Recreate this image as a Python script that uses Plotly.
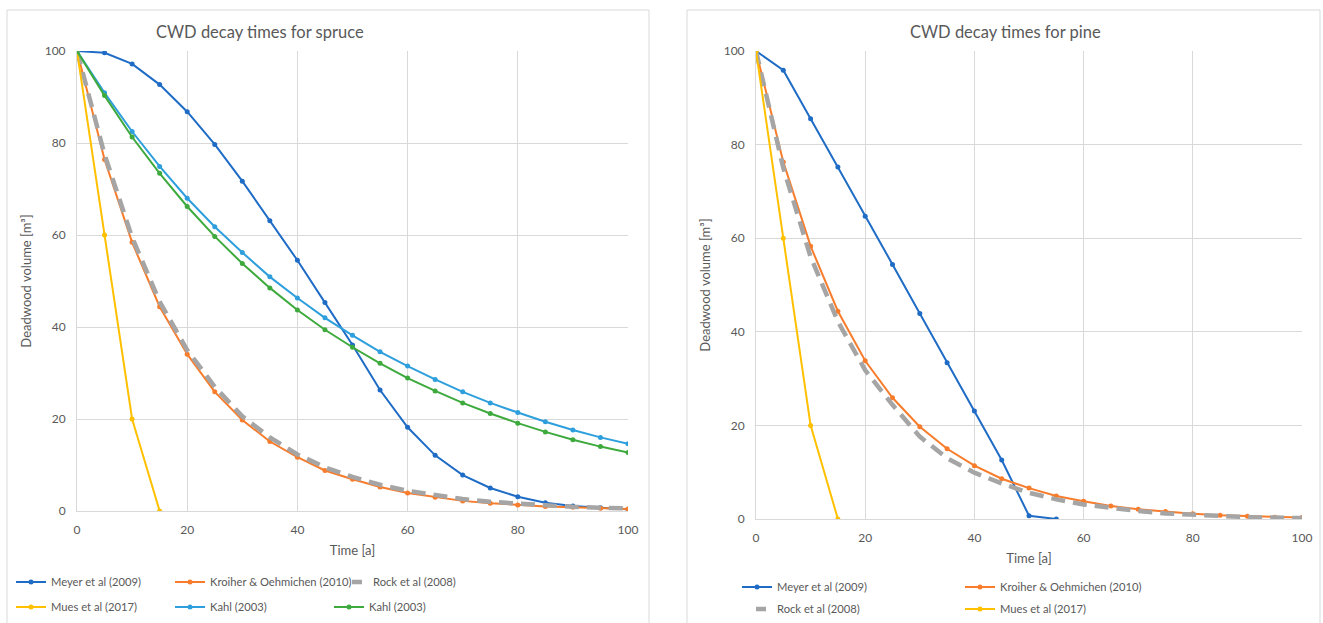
import plotly.graph_objects as go

# ---------------- data ----------------
t = [0, 5, 10, 15, 20, 25, 30, 35, 40, 45, 50, 55, 60, 65, 70, 75, 80, 85, 90, 95, 100]
t_mues = [0, 5, 10, 15]
t_meyer_pine = [0, 5, 10, 15, 20, 25, 30, 35, 40, 45, 50, 55]

# spruce
spruce_meyer = [100, 99.6, 97.2, 92.7, 86.8, 79.7, 71.7, 63.1, 54.5, 45.3, 36.1, 26.3, 18.2, 12.1, 7.8, 5.0, 3.1, 1.8, 1.1, 0.7, 0.4]
spruce_kroiher = [100, 76.4, 58.4, 44.4, 34.1, 25.9, 19.8, 15.1, 11.7, 8.8, 6.9, 5.2, 3.9, 3.0, 2.2, 1.7, 1.3, 1.0, 0.8, 0.6, 0.45]
spruce_rock = [100, 77.5, 59.5, 45.5, 35.0, 27.0, 20.6, 16.0, 12.3, 9.5, 7.4, 5.7, 4.4, 3.4, 2.6, 2.0, 1.6, 1.2, 0.9, 0.7, 0.55]
spruce_mues = [100, 60, 20, 0]
spruce_kahl1 = [100, 90.9, 82.5, 74.9, 68.0, 61.8, 56.2, 50.9, 46.3, 42.0, 38.2, 34.6, 31.5, 28.6, 25.9, 23.5, 21.4, 19.4, 17.6, 16.0, 14.6]
spruce_kahl2 = [100, 90.3, 81.3, 73.4, 66.2, 59.7, 53.8, 48.5, 43.7, 39.4, 35.6, 32.1, 28.9, 26.1, 23.5, 21.2, 19.1, 17.2, 15.5, 14.0, 12.7]

# pine
pine_meyer = [100, 95.9, 85.5, 75.2, 64.7, 54.4, 43.9, 33.4, 23.1, 12.6, 0.7, 0.0]
pine_kroiher = [100, 76.3, 58.3, 44.4, 33.8, 25.9, 19.7, 15.0, 11.4, 8.6, 6.6, 4.9, 3.8, 2.8, 2.1, 1.6, 1.1, 0.8, 0.6, 0.4, 0.3]
pine_rock = [100, 75.0, 56.0, 42.2, 31.8, 24.4, 17.6, 13.0, 9.9, 7.6, 5.6, 4.2, 3.1, 2.3, 1.7, 1.2, 0.9, 0.6, 0.4, 0.3, 0.2]
pine_mues = [100, 60, 20, 0]

y_ticks = [0, 20, 40, 60, 80, 100]
x_ticks = [0, 20, 40, 60, 80, 100]

# ---------------- styles ----------------
C_MEYER = "#1F6CC6"
C_KROIHER = "#F77C2C"
C_ROCK = "#A5A5A5"
C_MUES = "#FFC000"
C_KAHL1 = "#2E9FDC"
C_KAHL2 = "#3EAA3E"
FONT = "Lato"
GREY_TXT = "#595959"

W, H = 1323, 623


def px_x(p):
    return p / W


def px_y(p):
    return 1 - p / H


fig = go.Figure()


def line(x, y, name, color, xa, ya, legend, dash=False):
    if dash:
        # actual dashed curve (legend entry drawn by a data-less proxy below)
        fig.add_trace(go.Scatter(x=x, y=y, name=name, mode="lines",
                                 line=dict(color=color, width=4.5, dash="14px,8px"),
                                 xaxis=xa, yaxis=ya, legend=legend, showlegend=False))
        # legend proxy: shows a short grey bar like the original legend key
        fig.add_trace(go.Scatter(x=[None], y=[None], name=name, mode="lines",
                                 line=dict(color=color, width=4.5, dash="0px,14px,10px,30px"),
                                 xaxis=xa, yaxis=ya, legend=legend, hoverinfo="skip"))
    else:
        fig.add_trace(go.Scatter(x=x, y=y, name=name, mode="lines+markers",
                                 line=dict(color=color, width=2),
                                 marker=dict(color=color, size=5),
                                 xaxis=xa, yaxis=ya, legend=legend))


# left (spruce)
line(t, spruce_meyer, "Meyer et al (2009)", C_MEYER, "x", "y", "legend")
line(t, spruce_kroiher, "Kroiher & Oehmichen (2010)", C_KROIHER, "x", "y", "legend6")
line(t, spruce_rock, "Rock et al (2008)", C_ROCK, "x", "y", "legend5", dash=True)
line(t_mues, spruce_mues, "Mues et al (2017)", C_MUES, "x", "y", "legend2")
line(t, spruce_kahl1, "Kahl (2003)", C_KAHL1, "x", "y", "legend2")
line(t, spruce_kahl2, "Kahl (2003)", C_KAHL2, "x", "y", "legend2")

# right (pine)
line(t_meyer_pine, pine_meyer, "Meyer et al (2009)", C_MEYER, "x2", "y2", "legend3")
line(t, pine_kroiher, "Kroiher & Oehmichen (2010)", C_KROIHER, "x2", "y2", "legend3")
line(t, pine_rock, "Rock et al (2008)", C_ROCK, "x2", "y2", "legend4", dash=True)
line(t_mues, pine_mues, "Mues et al (2017)", C_MUES, "x2", "y2", "legend4")

axis_common = dict(range=[0, 100], tickvals=x_ticks, showgrid=True, gridcolor="#D9D9D9",
                   gridwidth=1, zeroline=False, showline=True, linecolor="#D9D9D9",
                   linewidth=1, ticks="", automargin=False,
                   tickfont=dict(family=FONT, size=12, color=GREY_TXT),
                   fixedrange=True)

xtitle = dict(text="Time [a]", font=dict(family=FONT, size=13, color=GREY_TXT), standoff=9)
ytitle = dict(text="Deadwood volume [m³]", font=dict(family=FONT, size=13, color=GREY_TXT), standoff=10)


def leg(xp, yp, ew=None):
    d = dict(orientation="h", x=px_x(xp), y=px_y(yp), xref="container", yref="container",
             xanchor="left", yanchor="middle", itemwidth=30,
             font=dict(family=FONT, size=11.2, color=GREY_TXT), bgcolor="rgba(0,0,0,0)")
    if ew is not None:
        d.update(entrywidth=ew, entrywidthmode="pixels")
    return d


fig.update_layout(
    width=W, height=H,
    margin=dict(l=0, r=0, t=0, b=0, autoexpand=False),
    paper_bgcolor="white", plot_bgcolor="white",
    font=dict(family=FONT, color=GREY_TXT),
    showlegend=True,
    hovermode="closest",
    xaxis=dict(axis_common, domain=[px_x(77), px_x(628)], anchor="y", ticklabelstandoff=8, title=xtitle),
    yaxis=dict(axis_common, tickvals=y_ticks, domain=[px_y(511), px_y(51)], anchor="x",
               ticklabelstandoff=8, title=ytitle),
    xaxis2=dict(axis_common, domain=[px_x(756), px_x(1302)], anchor="y2", ticklabelstandoff=8, title=xtitle),
    yaxis2=dict(axis_common, tickvals=y_ticks, domain=[px_y(519), px_y(51)], anchor="x2",
                ticklabelstandoff=8, title=ytitle),
    legend=leg(11, 582),
    legend6=leg(170, 582),
    legend5=leg(333, 582),
    legend2=leg(11, 607, 114),
    legend3=leg(737, 587, 178),
    legend4=leg(737, 609, 178),
    annotations=[
        dict(text="CWD decay times for spruce", x=px_x(260), y=px_y(32), xref="paper", yref="paper",
             showarrow=False, font=dict(family=FONT, size=16.5, color=GREY_TXT), xanchor="center", yanchor="middle"),
        dict(text="CWD decay times for pine", x=px_x(1005), y=px_y(32), xref="paper", yref="paper",
             showarrow=False, font=dict(family=FONT, size=16.5, color=GREY_TXT), xanchor="center", yanchor="middle"),
    ],
    shapes=[
        dict(type="rect", xref="paper", yref="paper", x0=px_x(7), x1=px_x(649), y0=px_y(640), y1=px_y(10),
             line=dict(color="#D9D9D9", width=1), fillcolor="rgba(0,0,0,0)", layer="below"),
        dict(type="rect", xref="paper", yref="paper", x0=px_x(687), x1=px_x(1320), y0=px_y(640), y1=px_y(10),
             line=dict(color="#D9D9D9", width=1), fillcolor="rgba(0,0,0,0)", layer="below"),
    ],
)

fig.write_html("out.html", config={"displayModeBar": False},
               post_script="document.body.style.margin='0';document.body.style.overflow='hidden';")
